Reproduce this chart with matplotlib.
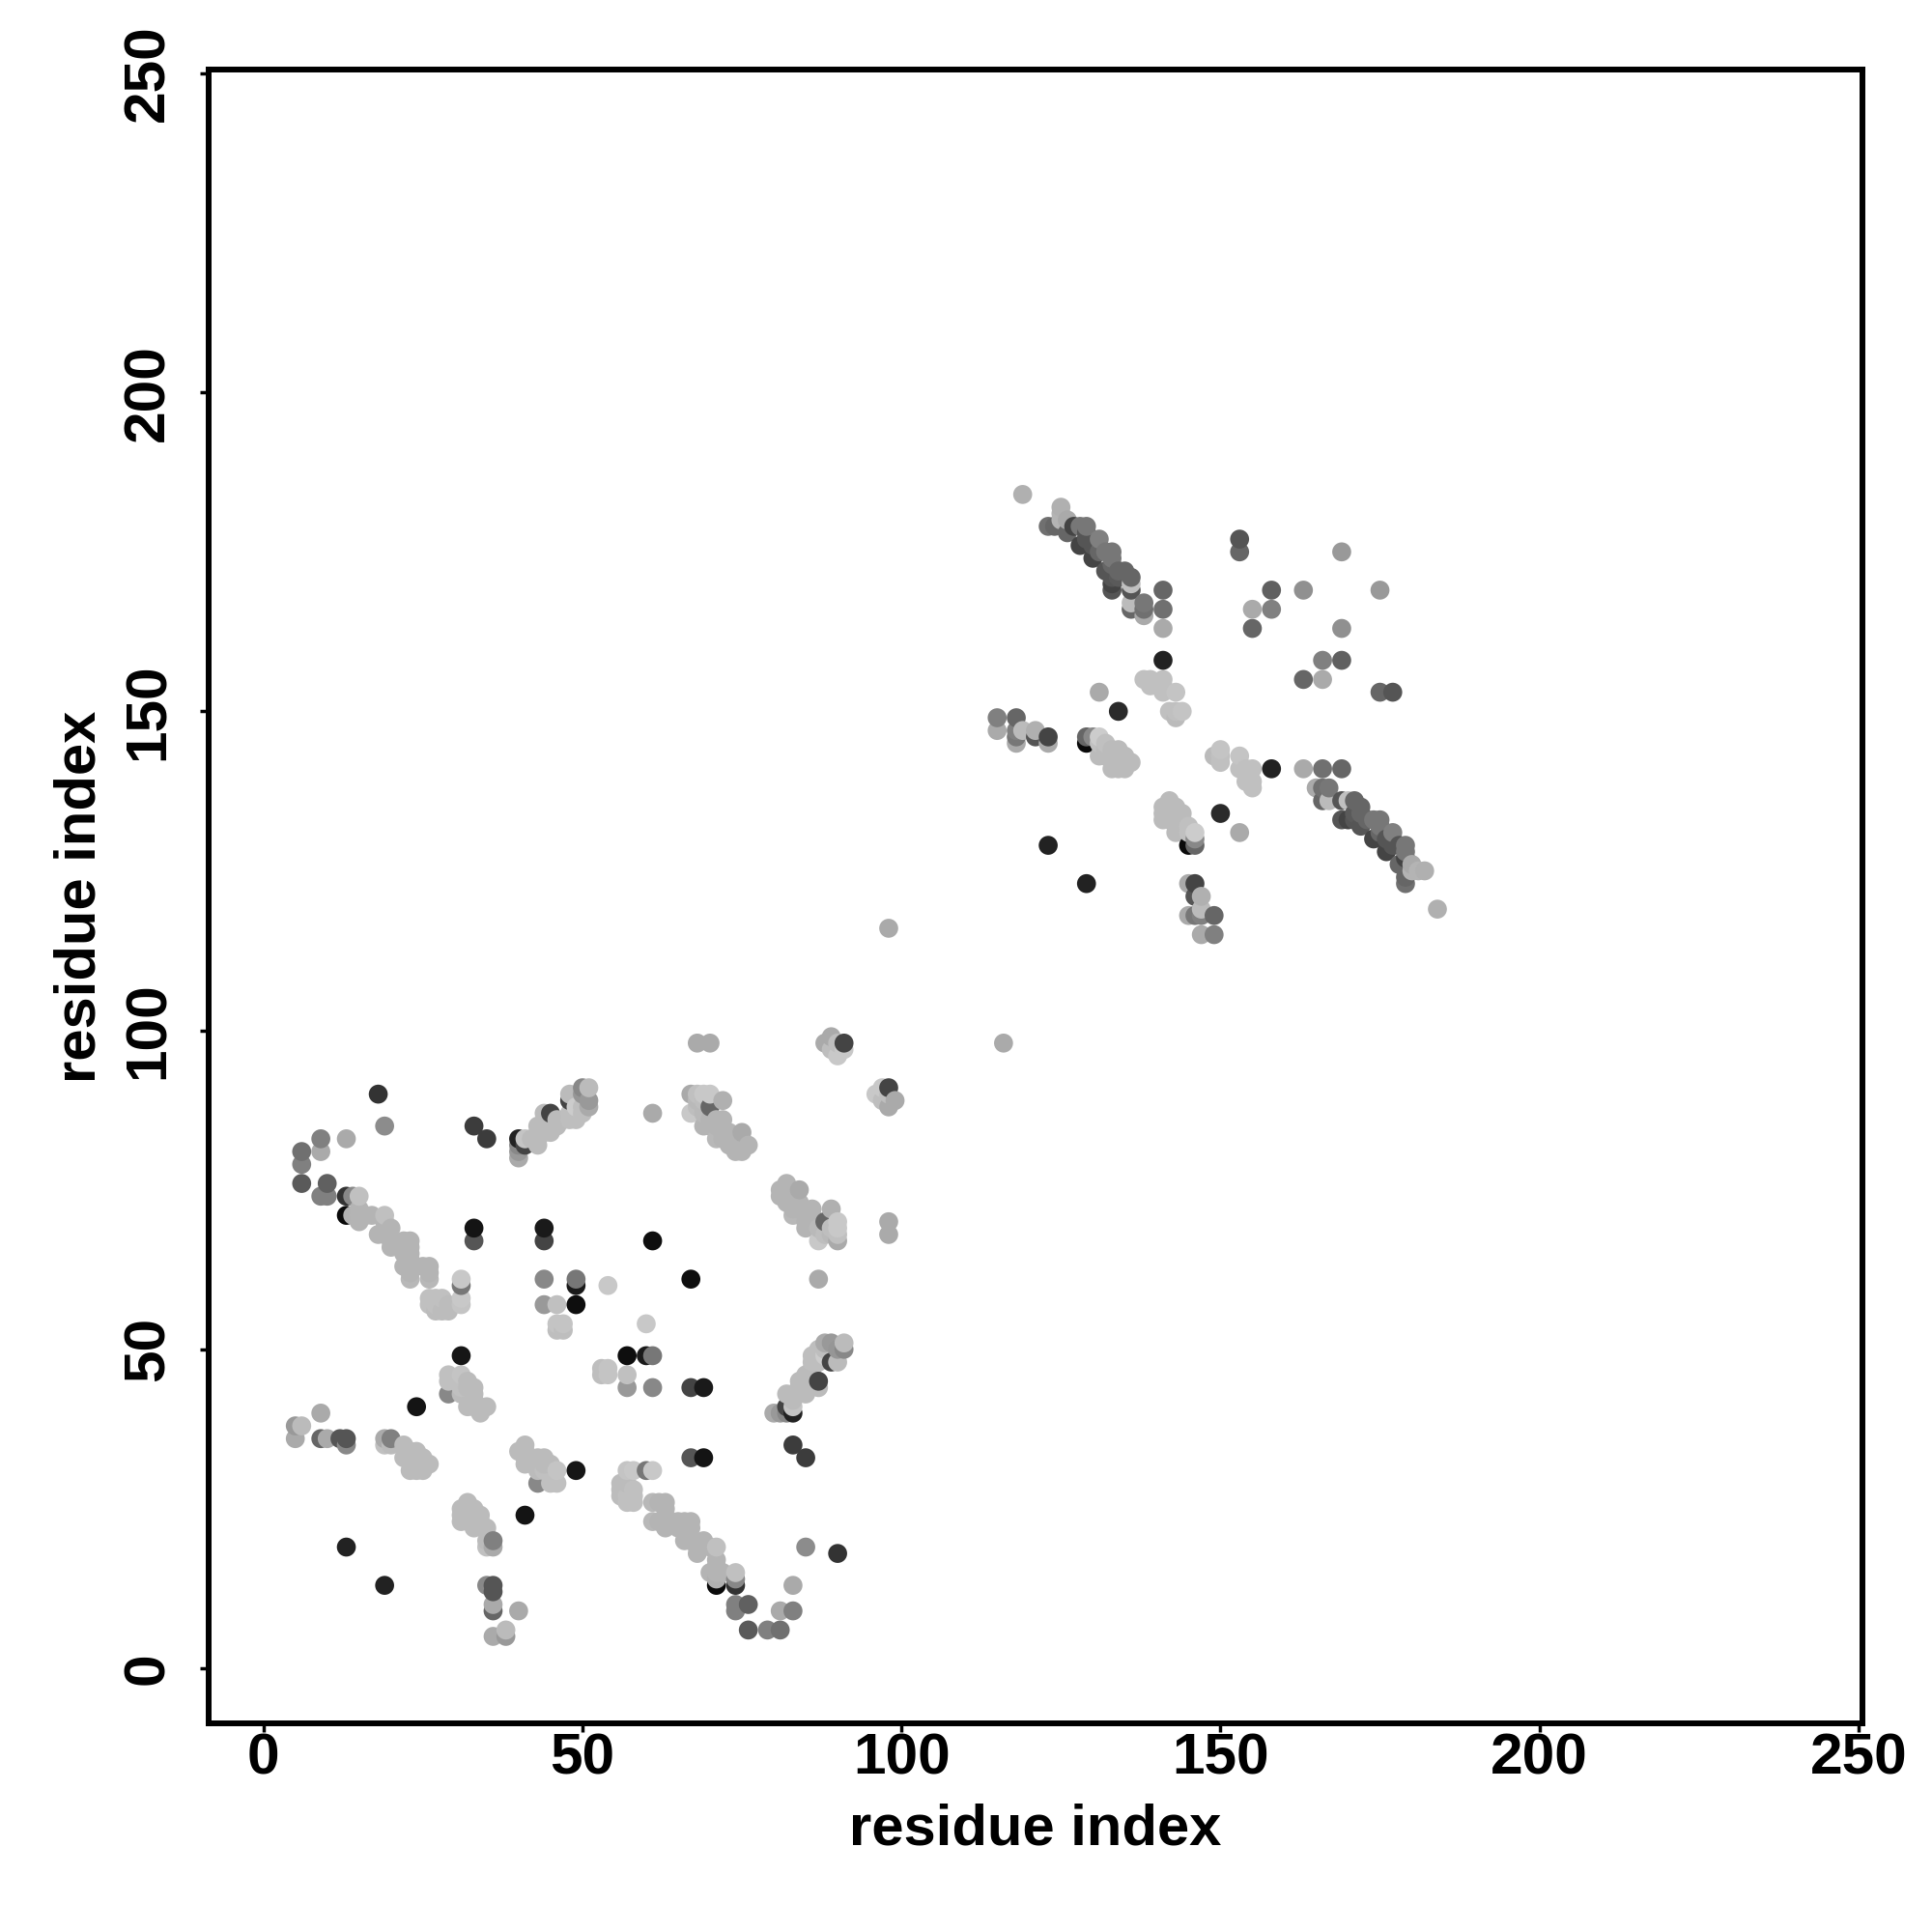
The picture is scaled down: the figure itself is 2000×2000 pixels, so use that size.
import numpy as np
import matplotlib
matplotlib.use('Agg')
import matplotlib.pyplot as plt

plt.rcParams['font.family'] = ['Liberation Sans', 'DejaVu Sans']

# contacts as (residue i, residue j, grey level 0-255) with i < j, the map is symmetric
sheet_low_a = [
    (15,70,180),(15,71,180),(15,72,180),(16,71,180),(17,71,180),(19,71,192),(18,68,180),(19,68,180),(19,70,180),
    (20,69,180),(20,66,180),(20,67,180),(22,67,180),(23,67,180),(22,65,180),(23,65,180),(23,66,180),(22,63,180),
    (23,63,180),(23,62,180),(23,64,180),(23,61,184),(25,63,180),(26,63,180),(26,62,180),(26,61,184),(31,61,200),
    (31,60,119),(31,58,200),(31,57,196),(26,58,192),(26,57,192),(27,58,192),(27,57,192),(28,58,192),(27,56,188),
    (28,56,188),(29,56,188),(29,57,188),
]
edge_low_a = [
    (18,90,51),(19,85,140),(9,83,128),(13,83,170),(6,81,112),(9,81,170),(6,79,128),(6,76,90),(10,76,96),
    (9,74,128),(10,74,128),(13,74,51),(14,74,136),(15,74,192),(13,71,10),(14,71,176),
]
arm_40_51 = [
    (40,83,34),(40,82,136),(40,81,153),(40,80,170),(41,83,196),(41,82,68),(43,85,187),(43,83,187),(43,82,187),
    (42,83,187),(44,87,187),(44,85,187),(45,87,68),(45,84,187),(44,84,187),(46,86,187),(46,85,187),(47,86,187),
    (48,86,190),(49,86,190),(48,87,190),(48,90,187),(48,89,68),(49,88,204),(50,88,190),(50,87,190),(50,91,136),
    (50,90,150),(51,89,153),(51,88,170),(51,91,187),
]
isolated_low = [
    (33,85,60),(35,83,60),(33,69,20),(33,67,85),(44,69,26),(44,67,68),(44,61,136),(49,61,119),(49,60,26),
    (49,57,14),(44,57,153),(46,57,192),(46,54,196),(47,54,196),(46,53,190),(47,53,190),(31,49,22),(61,67,14),
    (54,60,200),(61,87,170),(24,41,20),(9,40,170),(13,19,34),
]
sheet_67_76 = [
    (67,90,170),(68,90,192),(69,90,200),(70,90,200),(72,89,176),(67,87,200),(68,88,190),(69,89,190),(70,88,102),
    (68,89,185),(69,87,185),(69,85,180),(70,85,180),(70,86,180),(71,86,180),(72,86,180),(71,83,184),(72,84,180),
    (72,83,180),(71,85,180),(73,84,180),(75,84,170),(73,82,180),(74,81,180),(75,81,180),(75,82,180),(74,83,180),
    (76,82,180),(68,98,170),(70,98,170),
]
corner_88_99 = [(89,99,170),(88,98,170),(90,98,190),(91,98,68),(89,97,190),(90,96,200),(91,97,200),(98,116,170)]
sheet_23_46 = [
    (29,46,192),(31,46,196),(29,45,192),(29,43,136),(31,44,192),(32,44,187),(33,44,187),(33,43,187),(31,43,187),
    (32,41,187),(33,42,187),(33,41,187),(32,45,187),(34,40,187),(34,41,187),(35,41,187),
    (19,36,170),(20,36,128),(19,35,192),(20,35,187),(22,35,187),(22,33,187),(23,34,187),(24,34,187),(23,33,187),
    (23,31,187),(24,33,187),(25,33,187),(24,31,187),(25,31,187),(26,32,187),(24,32,187),
]
tail_5_13 = [
    (5,38,153),(6,38,187),(5,36,170),(9,36,102),(10,36,170),(12,36,85),(13,36,85),(13,35,136),
]
sheet_115_149 = [
    (115,149,128),(115,147,170),(118,149,102),(118,147,128),(118,146,119),(118,145,170),(119,147,187),
    (121,147,176),(121,146,85),(123,146,68),(123,145,170),(123,129,34),
    (129,146,102),(130,146,136),(129,145,10),(131,146,204),(131,145,192),(132,145,192),(131,143,187),
    (132,144,187),(132,143,187),(133,144,187),(134,144,187),(133,143,187),(133,142,187),(133,141,187),
    (134,143,187),(135,143,187),(134,141,187),(135,141,187),(135,142,187),(136,142,187),(134,142,187),
]
sheet_119_182 = [
    (119,184,176),(125,182,176),(125,181,180),(125,180,180),(123,179,112),(124,179,102),(126,180,170),
    (126,178,102),(127,179,68),(128,179,119),(129,179,119),(128,176,68),(129,177,85),(129,178,85),(130,174,68),
    (130,176,85),(131,177,128),(131,175,102),(132,172,85),(132,175,119),(133,175,119),(133,174,119),(133,173,102),
    (133,171,85),(133,170,68),(133,169,85),(134,172,102),(134,171,90),(135,172,102),(136,171,102),(136,170,192),
    (136,169,85),(136,167,187),(136,166,102),(138,167,119),(138,166,112),(138,165,170),
]
edge_141 = [(141,169,102),(141,166,112),(141,163,170),(141,158,34),(131,153,170),(134,150,42)]
sheet_138_155 = [
    (138,155,192),(139,155,192),(139,154,192),(141,155,192),(141,154,192),(141,153,192),(143,153,196),(142,150,192),
    (143,150,192),(144,150,196),(143,149,187),
]
sparse_153_177 = [
    (153,177,85),(153,175,102),(169,175,153),(158,169,96),(163,169,144),(155,166,170),(158,166,128),(155,163,102),
]

all_contacts = (sheet_low_a + edge_low_a + arm_40_51 + isolated_low + sheet_67_76 + corner_88_99 + sheet_23_46
                + tail_5_13 + sheet_115_149 + sheet_119_182 + edge_141 + sheet_138_155 + sparse_153_177)

res_i = np.array([c[0] for c in all_contacts])
res_j = np.array([c[1] for c in all_contacts])
grey = np.array([c[2] for c in all_contacts]) / 255.0

x = np.concatenate([res_i, res_j])
y = np.concatenate([res_j, res_i])
g = np.concatenate([grey, grey])

# the points are drawn residue by residue, bottom to top within a residue
order = np.lexsort((y, x))

fig = plt.figure(figsize=(20, 20), dpi=100)
ax = fig.add_axes([216/2000, 1-1784/2000, (1927.7-216)/2000, (1784-71.7)/2000])
ax.scatter(x[order], y[order], c=np.column_stack([g[order]]*3), s=200, linewidths=0, zorder=3)

ax.set_xlim(-8.58, 250.57)
ax.set_ylim(-8.63, 250.65)
ax.set_xticks([0, 50, 100, 150, 200, 250])
ax.set_yticks([0, 50, 100, 150, 200, 250])
ax.tick_params(axis='x', direction='out', length=6.5, width=2.5, labelsize=43.5, pad=0.5)
ax.tick_params(axis='y', direction='out', length=6.5, width=2.5, labelsize=43.5, pad=18.5)
for lab in ax.get_xticklabels():
    lab.set_fontweight('bold')
for lab in ax.get_yticklabels():
    lab.set_fontweight('bold')
    lab.set_rotation(90)
    lab.set_va('center')
ax.set_xlabel('residue index', fontsize=43, fontweight='bold', labelpad=12.5)
ax.set_ylabel('residue index', fontsize=43, fontweight='bold', labelpad=11)
for s in ax.spines.values():
    s.set_linewidth(4.3)

fig.savefig('out.png', dpi=100, facecolor='white')
